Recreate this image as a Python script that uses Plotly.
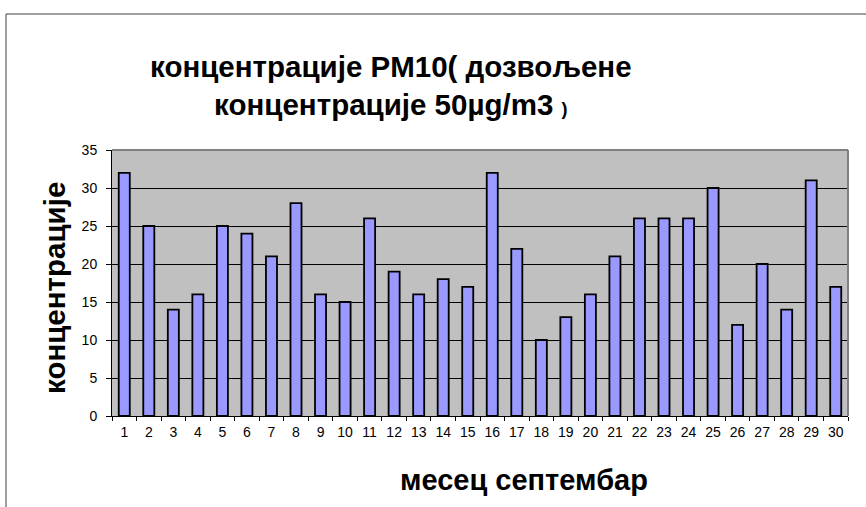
import plotly.graph_objects as go

days = [str(i) for i in range(1, 31)]
values = [32, 25, 14, 16, 25, 24, 21, 28, 16, 15, 26, 19, 16, 18, 17,
          32, 22, 10, 13, 16, 21, 26, 26, 26, 30, 12, 20, 14, 31, 17]
y_ticks = [0, 5, 10, 15, 20, 25, 30, 35]

W, H = 866, 507
L, R, T, B = 112, 18, 150, 91
pw, ph = W - L - R, H - T - B

def px(x):
    return (x - L) / pw

def py(y):
    return (H - B - y) / ph

FONT = "Liberation Sans, Arial, sans-serif"

fig = go.Figure(go.Bar(
    x=days, y=values,
    marker=dict(color="#9999FF", line=dict(color="black", width=1.8)),
    width=0.45,
))

fig.update_layout(
    width=W, height=H,
    margin=dict(l=L, r=R, t=T, b=B),
    paper_bgcolor="white",
    plot_bgcolor="#C0C0C0",
    showlegend=False,
    font=dict(family=FONT, color="black", size=14),
    xaxis=dict(
        type="category", tickson="boundaries", ticks="outside", ticklen=4,
        tickcolor="black", showline=True, linecolor="black", linewidth=1,
        showgrid=False, tickfont=dict(family=FONT, size=14, color="black"),
        ticklabelstandoff=3, tickangle=0,
    ),
    yaxis=dict(
        range=[0, 35], tickvals=y_ticks, ticks="outside", ticklen=5,
        tickcolor="black", showline=True, linecolor="black", linewidth=1,
        showgrid=True, gridcolor="black", gridwidth=1, zeroline=False,
        tickfont=dict(family=FONT, size=14, color="black"), ticklabelstandoff=6,
    ),
    shapes=[
        dict(type="line", xref="paper", yref="paper", x0=0, x1=1, y0=1, y1=1,
             line=dict(color="#808080", width=2), layer="above"),
        dict(type="line", xref="paper", yref="paper", x0=1, x1=1, y0=0, y1=1,
             line=dict(color="#808080", width=2), layer="above"),
        dict(type="line", xref="paper", yref="paper", x0=px(6), x1=px(W + 10),
             y0=py(14), y1=py(14), line=dict(color="#404040", width=1)),
        dict(type="line", xref="paper", yref="paper", x0=px(6), x1=px(6),
             y0=py(14), y1=py(H + 10), line=dict(color="#404040", width=1)),
    ],
    annotations=[
        dict(text="<b>концентрације PM10( дозвољене<br>концентрације 50µg/m3 <span style='font-size:18px'>)</span></b>",
             xref="paper", yref="paper", x=px(391), y=py(85),
             xanchor="center", yanchor="middle", showarrow=False,
             font=dict(size=29.5), align="center"),
        dict(text="<b>концентрације</b>", xref="paper", yref="paper",
             x=px(54), y=py(288), textangle=-90, showarrow=False,
             xanchor="center", yanchor="middle",
             font=dict(size=29.5)),
        dict(text="<b>месец септембар</b>", xref="paper", yref="paper",
             x=px(524), y=py(480), showarrow=False,
             xanchor="center", yanchor="middle",
             font=dict(size=29)),
    ],
)

fig.write_html("out.html", config={"displayModeBar": False},
               post_script="document.body.style.margin='0';")
